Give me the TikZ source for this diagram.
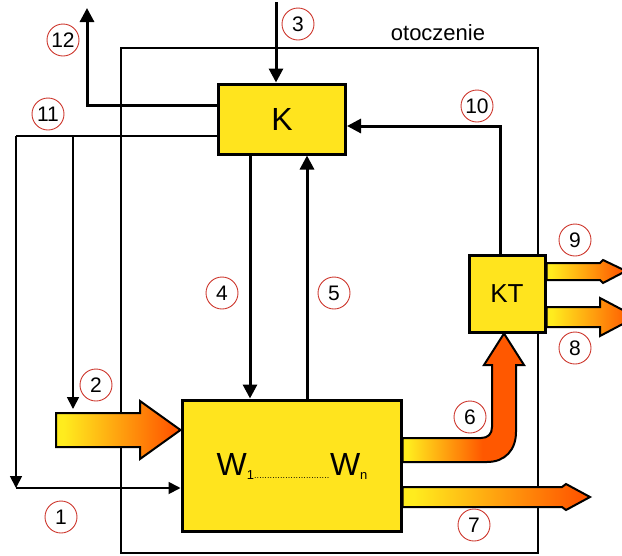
\documentclass[tikz,border=0pt]{standalone}
\usepackage{fontspec}
\setmainfont{Liberation Sans}
\usetikzlibrary{arrows.meta}
\definecolor{boxyel}{RGB}{255,228,30}
\definecolor{fyel}{RGB}{255,236,30}
\definecolor{forg}{RGB}{255,88,0}
\definecolor{lblred}{RGB}{205,55,45}
\pgfdeclarehorizontalshading{yoA}{100bp}{color(0bp)=(fyel); color(28bp)=(fyel); color(72bp)=(forg); color(100bp)=(forg)}
\pgfdeclarehorizontalshading{yoB}{100bp}{color(0bp)=(fyel); color(27bp)=(fyel); color(58bp)=(forg); color(100bp)=(forg)}
\pgfdeclarelayer{bg}
\pgfsetlayers{bg,main}
\begin{document}
\begin{tikzpicture}[x=1pt,y=-1pt,
 box/.style={draw=black, line width=3pt, fill=boxyel, inner sep=0pt},
 lbl/.style={circle, draw=lblred, line width=0.9pt, minimum size=32pt, inner sep=0pt, font=\fontsize{21}{21}\selectfont},
 thickarr/.style={line width=3pt, -{Triangle[length=14pt,width=14pt]}},
 thinline/.style={line width=1.8pt},
 thinarr/.style={line width=1.8pt, -{Triangle[length=12pt,width=12pt]}},
 fat/.style={draw=black, line width=2pt, shade},
]
\useasboundingbox (0,0) rectangle (622,555);
\clip (0,0) rectangle (622,555);

% boxes
\node[box, minimum width=127pt, minimum height=70pt, font=\fontsize{32}{32}\selectfont] (K) at (282,119) {K};
\node[box, minimum width=76pt, minimum height=77pt, font=\fontsize{26}{26}\selectfont] (KT) at (507,293.5) {KT};
\node[box, minimum width=219pt, minimum height=131pt] (W) at (291.5,465.5) {};
\node[anchor=base, inner sep=0pt, font=\fontsize{32}{32}\selectfont] (Wtxt) at (292,475) {W\raisebox{-4pt}{\fontsize{13}{13}\selectfont 1}\raisebox{-3pt}{\hbox to 76pt{\fontsize{9}{9}\selectfont\leaders\hbox to 2.6pt{\hss.\hss}\hfill}}W\raisebox{-4pt}{\fontsize{13}{13}\selectfont n}};

\node[font=\fontsize{22}{22}\selectfont] (env) at (438,33) {otoczenie};

% helper coordinates
\coordinate (t3) at (276,2);
\coordinate (t12) at (87,8);
\coordinate (y12) at (0,105);
\coordinate (c11) at (16,136);
\coordinate (c2) at (73,136);
\coordinate (c1) at (16,488);
\coordinate (e2) at (73,409);
\coordinate (x4) at (250,0);
\coordinate (x5) at (307,0);
\coordinate (x10) at (500,0);
\coordinate (y10) at (0,126);

\begin{pgfonlayer}{bg}
\draw[line width=2pt] (121,48) rectangle (538,553);
% fat arrow 2
\draw[fat, shading=yoA] (56,413) -- (140,413) -- (140,401) -- (W.west |- 0,430) -- (140,459) -- (140,447) -- (56,447) -- cycle;
% fat arrow 6
\draw[fat, shading=yoB] (W.east |- 0,438) -- (481,438) .. controls (488,438) and (492,434) .. (492,427) -- (492,365) -- (484,365) -- (KT.south -| 504,0) -- (524,365) -- (516,365) -- (516,432) .. controls (516,450) and (505,462) .. (487,462) -- (W.east |- 0,462) -- cycle;
% fat arrow 7
\draw[fat, shading=yoA] (W.east |- 0,487) -- (562,487) -- (566,484) -- (590,497) -- (566,510) -- (562,507) -- (W.east |- 0,507) -- cycle;
% fat arrow 9
\draw[fat, shading=yoA] (KT.east |- 0,263) -- (600,263) -- (603,260) -- (626,271) -- (603,283) -- (600,280) -- (KT.east |- 0,280) -- cycle;
% fat arrow 8
\draw[fat, shading=yoA] (KT.east |- 0,307) -- (600,307) -- (600,298) -- (636,317) -- (600,336) -- (600,327) -- (KT.east |- 0,327) -- cycle;
\end{pgfonlayer}

% connectors
\draw[thickarr] (t3) -- (t3 |- K.north);
\draw[thickarr] (K.west |- y12) -| (t12);
\draw[thinline] (K.west |- c11) -- (c11);
\draw[thinarr] (c11) -- (c1);
\draw[thinarr] (c1) -- (W.west |- c1);
\draw[thinarr] (c2) -- (e2);
\draw[thickarr] (K.south -| x4) -- (W.north -| x4);
\draw[thickarr] (W.north -| x5) -- (K.south -| x5);
\draw[thickarr] (KT.north -| x10) |- (K.east |- y10);

% labels
\node[lbl] (n12) at (63,40) {12};
\node[lbl] (n3) at (298,24) {3};
\node[lbl] (n11) at (48,114) {11};
\node[lbl] (n10) at (477,106) {10};
\node[lbl] (n9) at (575,240) {9};
\node[lbl] (n8) at (575,348) {8};
\node[lbl] (n4) at (222,293) {4};
\node[lbl] (n5) at (334,293) {5};
\node[lbl] (n2) at (96,385) {2};
\node[lbl] (n6) at (470,417) {6};
\node[lbl] (n1) at (61,517) {1};
\node[lbl] (n7) at (474,525) {7};
\end{tikzpicture}
\end{document}
